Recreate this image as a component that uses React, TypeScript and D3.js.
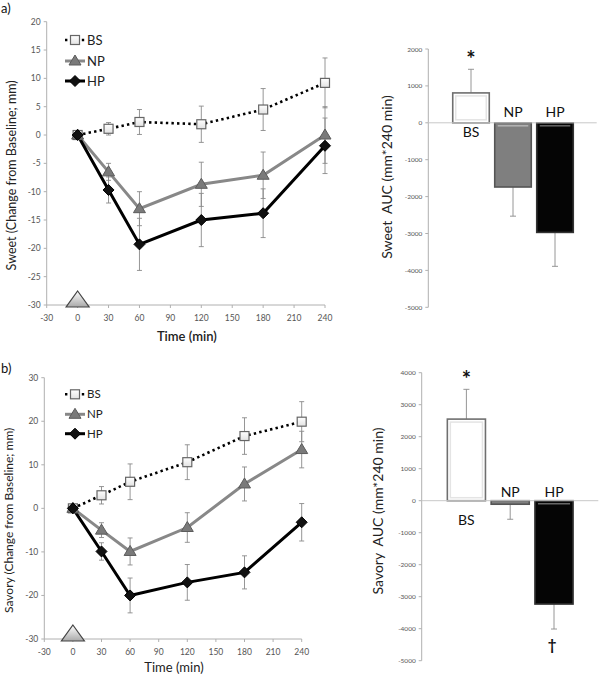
import * as d3 from 'd3';

// time course data (change from baseline, mm)
const times = [0, 30, 60, 120, 180, 240];
const timeTicks = [-30, 0, 30, 60, 90, 120, 150, 180, 210, 240];

const sweetBS = [0, 1.1, 2.3, 1.9, 4.5, 9.2];
const sweetBSErr = [0, 1.1, 2.2, 3.2, 3.7, 4.4];
const sweetNP = [0, -6.5, -13, -8.7, -7.1, 0];
const sweetNPErr = [0, 1.5, 3.0, 3.9, 4.1, 5.0];
const sweetHP = [0, -9.7, -19.3, -15, -13.8, -1.9];
const sweetHPErr = [0, 2.3, 4.6, 4.7, 4.3, 4.9];
const sweetTicks = [20, 15, 10, 5, 0, -5, -10, -15, -20, -25, -30];

const savoryBS = [0, 3, 6.1, 10.6, 16.6, 19.9];
const savoryBSErr = [0, 2, 4.1, 4, 4.2, 4.6];
const savoryNP = [0, -5, -9.9, -4.4, 5.6, 13.5];
const savoryNPErr = [0, 1.7, 3.1, 3.4, 3.9, 4.2];
const savoryHP = [0, -9.9, -20, -17, -14.7, -3.2];
const savoryHPErr = [0, 2, 4, 4.1, 3.8, 4.3];
const savoryTicks = [30, 20, 10, 0, -10, -20, -30];

// AUC data (mm*240 min)
const groups = ['BS', 'NP', 'HP'];
const sweetAUC = [810, -1740, -2970];
const sweetAUCErr = [640, 790, 920];
const savoryAUC = [2550, -110, -3230];
const savoryAUCErr = [930, 470, 780];
const sweetAUCTicks = [2000, 1000, 0, -1000, -2000, -3000, -4000, -5000];
const savoryAUCTicks = [4000, 3000, 2000, 1000, 0, -1000, -2000, -3000, -4000, -5000];

const FONT = 'Lato, "Open Sans", sans-serif';
const AXIS = '#b0b0b0';
const TICK_TEXT = '#555';
const ERR = '#8a8a8a';

type Kind = 'BS' | 'NP' | 'HP';

const lineStyle: Record<Kind, { stroke: string; width: number; dash?: string }> = {
  BS: { stroke: '#000', width: 2.6, dash: '2.4 3.2' },
  NP: { stroke: '#888', width: 3 },
  HP: { stroke: '#000', width: 3 },
};

function Marker({ kind, x, y }: { kind: Kind; x: number; y: number }) {
  if (kind === 'BS') {
    return <rect x={x - 4.5} y={y - 4.5} width={9} height={9} fill="url(#sqGrad)" stroke="#666" strokeWidth={1.2} />;
  }
  if (kind === 'NP') {
    return (
      <path
        d={`M${x},${y - 6}L${x + 6},${y + 4}L${x - 6},${y + 4}Z`}
        fill="#7a7a7a"
        stroke="#5c5c5c"
        strokeWidth={1}
      />
    );
  }
  return <path d={`M${x},${y - 5.5}L${x + 5.5},${y}L${x},${y + 5.5}L${x - 5.5},${y}Z`} fill="#111" stroke="#000" />;
}

interface LineChartProps {
  xPx: [number, number];
  yPx: [number, number];
  yDomain: [number, number];
  yTicks: number[];
  series: { kind: Kind; values: number[]; errors: number[] }[];
  yLabel: string;
  yLabelX: number;
  yLabelSize: number;
  xTitleY: number;
  xTitleWeight: number;
  legendX: number;
  legendY: number[];
  legendSize: number;
}

function LineChart(p: LineChartProps) {
  const x = d3.scaleLinear().domain([-30, 240]).range(p.xPx);
  const y = d3.scaleLinear().domain(p.yDomain).range(p.yPx);
  const yBase = p.yPx[0];
  const left = p.xPx[0];
  const line = d3
    .line<number>()
    .x((_, i) => x(times[i]))
    .y((d) => y(d));

  return (
    <g>
      {/* axes */}
      <line x1={left} x2={left} y1={p.yPx[1]} y2={yBase} stroke={AXIS} />
      <line x1={left} x2={p.xPx[1]} y1={yBase} y2={yBase} stroke={AXIS} />
      {p.yTicks.map((t) => (
        <g key={t}>
          <line x1={left - 3} x2={left} y1={y(t)} y2={y(t)} stroke={AXIS} />
          <text x={left - 6} y={y(t) + 3} fontSize={8.5} textAnchor="end" fill={TICK_TEXT} fontFamily={FONT}>
            {t}
          </text>
        </g>
      ))}
      {timeTicks.map((t) => (
        <g key={t}>
          <line x1={x(t)} x2={x(t)} y1={yBase} y2={yBase + 3} stroke={AXIS} />
          <text x={x(t)} y={yBase + 16} fontSize={8.5} textAnchor="middle" fill={TICK_TEXT} fontFamily={FONT}>
            {t}
          </text>
        </g>
      ))}
      <text
        x={(p.xPx[0] + p.xPx[1]) / 2 + 1}
        y={p.xTitleY}
        fontSize={13}
        fontWeight={p.xTitleWeight}
        textAnchor="middle"
        fontFamily={FONT}
        fill="#222"
      >
        Time (min)
      </text>
      <text
        transform={`translate(${p.yLabelX},${(p.yPx[0] + p.yPx[1]) / 2 + 12}) rotate(-90)`}
        fontSize={p.yLabelSize}
        textAnchor="middle"
        fontFamily={FONT}
        fill="#222"
      >
        {p.yLabel}
      </text>

      {/* meal marker */}
      <path
        d={`M${x(0)},${yBase - 14}L${x(0) + 11.5},${yBase + 2}L${x(0) - 11.5},${yBase + 2}Z`}
        fill="url(#triGrad)"
        stroke="#444"
        strokeWidth={1.2}
      />

      {/* error bars */}
      {p.series.map((s) =>
        s.values.map((v, i) =>
          s.errors[i] > 0 ? (
            <g key={s.kind + i} stroke={ERR} strokeWidth={0.9}>
              <line x1={x(times[i])} x2={x(times[i])} y1={y(v + s.errors[i])} y2={y(v - s.errors[i])} />
              <line x1={x(times[i]) - 2.5} x2={x(times[i]) + 2.5} y1={y(v + s.errors[i])} y2={y(v + s.errors[i])} />
              <line x1={x(times[i]) - 2.5} x2={x(times[i]) + 2.5} y1={y(v - s.errors[i])} y2={y(v - s.errors[i])} />
            </g>
          ) : null
        )
      )}

      {/* lines */}
      {p.series.map((s) => (
        <path
          key={s.kind}
          d={line(s.values) ?? ''}
          fill="none"
          stroke={lineStyle[s.kind].stroke}
          strokeWidth={lineStyle[s.kind].width}
          strokeDasharray={lineStyle[s.kind].dash}
        />
      ))}
      {p.series.map((s) => s.values.map((v, i) => <Marker key={s.kind + 'm' + i} kind={s.kind} x={x(times[i])} y={y(v)} />))}

      {/* legend */}
      {p.series.map((s, i) => (
        <g key={'lg' + s.kind}>
          <line
            x1={p.legendX}
            x2={p.legendX + 20}
            y1={p.legendY[i]}
            y2={p.legendY[i]}
            stroke={lineStyle[s.kind].stroke}
            strokeWidth={lineStyle[s.kind].width}
            strokeDasharray={lineStyle[s.kind].dash}
          />
          <Marker kind={s.kind} x={p.legendX + 10} y={p.legendY[i]} />
          <text x={p.legendX + 22} y={p.legendY[i] + p.legendSize * 0.36} fontSize={p.legendSize} fontFamily={FONT} fill="#222">
            {s.kind}
          </text>
        </g>
      ))}
    </g>
  );
}

interface BarChartProps {
  xPx: [number, number];
  axisX: number;
  lineEnd: number;
  yPx: [number, number];
  yDomain: [number, number];
  yTicks: number[];
  values: number[];
  errors: number[];
  yLabel: string;
  yLabelX: number;
  yLabelY: number;
  bsLabelDy: number;
  negLabelDy: number;
  dagger: boolean;
}

const barFill = ['#ffffff', '#7f7f7f', '#050505'];
const barStroke = ['#6f6f6f', '#555', '#333'];

function BarChart(p: BarChartProps) {
  const x = d3.scaleBand().domain(groups).range(p.xPx).paddingInner(0.13).paddingOuter(0.065);
  const y = d3.scaleLinear().domain(p.yDomain).range(p.yPx);
  const zero = y(0);
  const bw = x.bandwidth();

  return (
    <g>
      <line x1={p.axisX} x2={p.axisX} y1={p.yPx[1]} y2={p.yPx[0]} stroke={AXIS} />
      {p.yTicks.map((t) => (
        <g key={t}>
          <line x1={p.axisX - 3} x2={p.axisX} y1={y(t)} y2={y(t)} stroke={AXIS} />
          <text x={p.axisX - 6} y={y(t) + 2.5} fontSize={6.5} textAnchor="end" fill={TICK_TEXT} fontFamily={FONT}>
            {t}
          </text>
        </g>
      ))}
      <text
        transform={`translate(${p.yLabelX},${p.yLabelY}) rotate(-90)`}
        fontSize={14}
        textAnchor="middle"
        fontFamily={FONT}
        fill="#222"
        style={{ whiteSpace: 'pre' }}
      >
        {p.yLabel}
      </text>

      {/* error bars, one sided */}
      {p.values.map((v, i) => {
        const cx = (x(groups[i]) ?? 0) + bw / 2;
        const end = v >= 0 ? v + p.errors[i] : v - p.errors[i];
        return (
          <g key={'e' + i} stroke={ERR} strokeWidth={0.9}>
            <line x1={cx} x2={cx} y1={y(v)} y2={y(end)} />
            <line x1={cx - 3} x2={cx + 3} y1={y(end)} y2={y(end)} />
          </g>
        );
      })}

      {p.values.map((v, i) => {
        const bx = x(groups[i]) ?? 0;
        const top = Math.min(y(v), zero);
        const h = Math.abs(y(v) - zero);
        return (
          <g key={'b' + i}>
            <rect x={bx} y={top} width={bw} height={h} fill={barFill[i]} stroke={barStroke[i]} strokeWidth={1.6} />
            {i === 0 && h > 6 && (
              <rect x={bx + 3} y={top + 3} width={bw - 6} height={h - 6} fill="none" stroke="#e4e4e4" strokeWidth={1.5} />
            )}
            {i > 0 && h > 6 && (
              <line x1={bx + 3} x2={bx + bw - 3} y1={zero + 3} y2={zero + 3} stroke={i === 1 ? '#b5b5b5' : '#666'} strokeWidth={1.5} />
            )}
          </g>
        );
      })}

      <line x1={p.axisX} x2={p.lineEnd} y1={zero} y2={zero} stroke="#c8c8c8" />

      {groups.map((g, i) => {
        const cx = (x(g) ?? 0) + bw / 2;
        const dy = p.values[i] >= 0 ? p.bsLabelDy : p.negLabelDy;
        return (
          <text key={'l' + g} x={cx} y={zero + dy} fontSize={14} textAnchor="middle" fontFamily={FONT} fill="#111">
            {g}
          </text>
        );
      })}

      {/* significance marks */}
      <text
        x={(x('BS') ?? 0) + bw / 2}
        y={y(p.values[0] + p.errors[0]) - 2}
        fontSize={22}
        fontWeight={700}
        textAnchor="middle"
        fontFamily={FONT}
        fill="#111"
      >
        *
      </text>
      {p.dagger && (
        <text
          x={(x('HP') ?? 0) + bw / 2 - 2}
          y={y(p.values[2] - p.errors[2]) + 21}
          fontSize={15}
          fontWeight={700}
          textAnchor="middle"
          fontFamily={FONT}
          fill="#111"
        >
          †
        </text>
      )}
    </g>
  );
}

export default function App() {
  return (
    <div style={{ position: 'absolute', left: 0, top: 0 }}>
      <svg width={600} height={675} style={{ display: 'block', background: '#fff' }}>
        <defs>
          <linearGradient id="triGrad" x1="0" y1="0" x2="0" y2="1">
            <stop offset="0" stopColor="#ffffff" />
            <stop offset="1" stopColor="#a9a9a9" />
          </linearGradient>
          <linearGradient id="sqGrad" x1="0" y1="0" x2="0" y2="1">
            <stop offset="0" stopColor="#ffffff" />
            <stop offset="1" stopColor="#e2e2e2" />
          </linearGradient>
        </defs>

        <text x={1} y={13} fontSize={13} fontFamily={FONT} fill="#111">
          a)
        </text>
        <text x={1} y={373} fontSize={13} fontFamily={FONT} fill="#111">
          b)
        </text>

        <LineChart
          xPx={[46.7, 325]}
          yPx={[305, 21.7]}
          yDomain={[-30, 20]}
          yTicks={sweetTicks}
          series={[
            { kind: 'BS', values: sweetBS, errors: sweetBSErr },
            { kind: 'NP', values: sweetNP, errors: sweetNPErr },
            { kind: 'HP', values: sweetHP, errors: sweetHPErr },
          ]}
          yLabel="Sweet (Change from Baseline; mm)"
          yLabelX={16}
          yLabelSize={12.5}
          xTitleY={341}
          xTitleWeight={600}
          legendX={65}
          legendY={[40, 61, 81]}
          legendSize={13}
        />

        <LineChart
          xPx={[44.3, 301.7]}
          yPx={[639, 377.7]}
          yDomain={[-30, 30]}
          yTicks={savoryTicks}
          series={[
            { kind: 'BS', values: savoryBS, errors: savoryBSErr },
            { kind: 'NP', values: savoryNP, errors: savoryNPErr },
            { kind: 'HP', values: savoryHP, errors: savoryHPErr },
          ]}
          yLabel="Savory (Change from Baseline; mm)"
          yLabelX={13}
          yLabelSize={12}
          xTitleY={672}
          xTitleWeight={400}
          legendX={65}
          legendY={[394.3, 414.3, 433.7]}
          legendSize={11.5}
        />

        <BarChart
          xPx={[450, 576]}
          axisX={428.3}
          lineEnd={596.7}
          yPx={[307.3, 49]}
          yDomain={[-5000, 2000]}
          yTicks={sweetAUCTicks}
          values={sweetAUC}
          errors={sweetAUCErr}
          yLabel="Sweet  AUC (mm*240 min)"
          yLabelX={392}
          yLabelY={177}
          bsLabelDy={14}
          negLabelDy={-6}
          dagger={false}
        />

        <BarChart
          xPx={[444.5, 575.9]}
          axisX={421.7}
          lineEnd={598.3}
          yPx={[660.7, 372.7]}
          yDomain={[-5000, 4000]}
          yTicks={savoryAUCTicks}
          values={savoryAUC}
          errors={savoryAUCErr}
          yLabel="Savory  AUC (mm*240 min)"
          yLabelX={383}
          yLabelY={511}
          bsLabelDy={24}
          negLabelDy={-4}
          dagger={true}
        />
      </svg>
    </div>
  );
}
